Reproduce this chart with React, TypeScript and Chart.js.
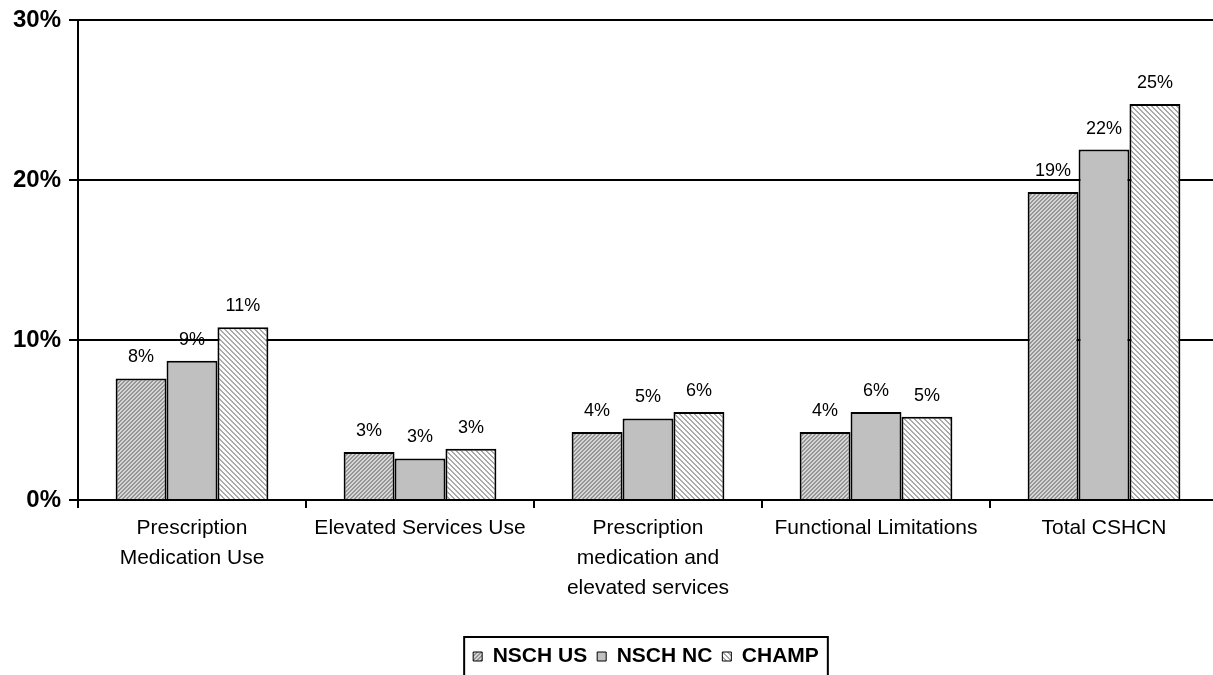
import { useEffect, useRef } from "react";
import { Chart, registerables } from "chart.js";

Chart.register(...registerables);

// Category labels (multi-line where the axis wraps them)
const categories: string[][] = [
  ["Prescription", "Medication Use"],
  ["Elevated Services Use"],
  ["Prescription", "medication and", "elevated services"],
  ["Functional Limitations"],
  ["Total CSHCN"],
];

// Percent of children, per survey
const nschUS = [7.6, 3.0, 4.25, 4.25, 19.25];
const nschNC = [8.7, 2.6, 5.1, 5.5, 21.9];
const champ = [10.8, 3.2, 5.5, 5.2, 24.75];

const seriesNames = ["NSCH US", "NSCH NC", "CHAMP"];

const yMin = 0;
const yMax = 30;
const yStep = 10;

const FONT = "'Liberation Sans', Arial, Helvetica, sans-serif";

// Build a repeating diagonal-stripe fill.
function stripePattern(
  period: number,
  stripeWidth: number,
  bg: [number, number, number],
  fg: [number, number, number],
  forward: boolean
): CanvasPattern | string {
  const c = document.createElement("canvas");
  c.width = period;
  c.height = period;
  const ctx = c.getContext("2d");
  if (!ctx) return "#bbb";
  const img = ctx.createImageData(period, period);
  for (let y = 0; y < period; y++) {
    for (let x = 0; x < period; x++) {
      const k = forward ? (x + y) % period : (((x - y) % period) + period) % period;
      const col = k < stripeWidth ? fg : bg;
      const i = (y * period + x) * 4;
      img.data[i] = col[0];
      img.data[i + 1] = col[1];
      img.data[i + 2] = col[2];
      img.data[i + 3] = 255;
    }
  }
  ctx.putImageData(img, 0, 0);
  const p = ctx.createPattern(c, "repeat");
  return p || "#bbb";
}

// Value labels above each bar
const barValueLabels = {
  id: "barValueLabels",
  afterDatasetsDraw(chart: any) {
    const ctx = chart.ctx;
    ctx.save();
    ctx.font = `18px ${FONT}`;
    ctx.fillStyle = "#000";
    ctx.textAlign = "center";
    ctx.textBaseline = "middle";
    chart.data.datasets.forEach((ds: any, di: number) => {
      const meta = chart.getDatasetMeta(di);
      meta.data.forEach((el: any, i: number) => {
        const v = ds.data[i] as number;
        ctx.fillText(`${Math.round(v)}%`, el.x, el.y - 21);
      });
    });
    ctx.restore();
  },
};

// Legend sits a little right of centre, inside a frame
const LEGEND_DX = 37;
const LEGEND_DY = 2;
const legendFrame = {
  id: "legendFrame",
  afterUpdate(chart: any) {
    const lg = chart.legend;
    if (!lg) return;
    lg.left += LEGEND_DX;
    lg.right += LEGEND_DX;
    lg.top += LEGEND_DY;
    lg.bottom += LEGEND_DY;
    for (const b of lg.legendHitBoxes || []) {
      b.left += LEGEND_DX;
      b.top += LEGEND_DY;
    }
  },
  afterDraw(chart: any) {
    const lg = chart.legend;
    if (!lg || !lg.legendHitBoxes || !lg.legendHitBoxes.length) return;
    const boxes = lg.legendHitBoxes;
    let minX = Infinity;
    let maxX = -Infinity;
    let minY = Infinity;
    for (const b of boxes) {
      minX = Math.min(minX, b.left);
      maxX = Math.max(maxX, b.left + b.width);
      minY = Math.min(minY, b.top);
    }
    const ctx = chart.ctx;
    ctx.save();
    ctx.strokeStyle = "#000";
    ctx.lineWidth = 2;
    ctx.strokeRect(minX - 9, minY - 9, maxX - minX + 18, 60);
    ctx.restore();
  },
};

export default function App() {
  const canvasRef = useRef<HTMLCanvasElement | null>(null);

  useEffect(() => {
    if (!canvasRef.current) return;
    const usFill = stripePattern(4, 2, [214, 214, 214], [150, 150, 150], true);
    const ncFill = "#c0c0c0";
    const champFill = stripePattern(5, 2, [252, 252, 252], [170, 170, 170], false);

    const chart = new Chart(canvasRef.current, {
      type: "bar",
      data: {
        labels: categories,
        datasets: [
          { label: seriesNames[0], data: nschUS, backgroundColor: usFill as any },
          { label: seriesNames[1], data: nschNC, backgroundColor: ncFill },
          { label: seriesNames[2], data: champ, backgroundColor: champFill as any },
        ].map((d) => ({
          ...d,
          borderColor: "#000",
          borderWidth: 2,
          borderSkipped: "bottom",
          categoryPercentage: 0.67,
          barPercentage: 1,
        })),
      },
      options: {
        animation: false,
        responsive: true,
        maintainAspectRatio: false,
        layout: { padding: { top: 20, left: 0, right: 0, bottom: 0 } },
        plugins: {
          tooltip: { enabled: false },
          title: { display: false },
          legend: {
            display: true,
            position: "bottom",
            labels: {
              color: "#000",
              font: { family: FONT, size: 21, weight: "bold" },
              boxWidth: 9,
              boxHeight: 9,
              padding: 10,
              generateLabels(chart: any) {
                const items = Chart.defaults.plugins.legend.labels.generateLabels(chart);
                return items.map((it: any) => ({ ...it, lineWidth: 1, strokeStyle: "#000" }));
              },
            },
          },
        },
        scales: {
          x: {
            type: "category",
            offset: true,
            grid: {
              display: true,
              drawOnChartArea: false,
              drawTicks: true,
              tickLength: 8,
              color: "#000",
              lineWidth: 2,
              offset: true,
            },
            border: { display: true, color: "#000", width: 2 },
            ticks: {
              color: "#000",
              font: { family: FONT, size: 21, lineHeight: 1.43 },
              maxRotation: 0,
              autoSkip: false,
              padding: 5,
            },
            afterFit(scale: any) {
              scale.height = 134;
            },
          },
          y: {
            min: yMin,
            max: yMax,
            grid: {
              color: "#000",
              lineWidth: 2,
              drawTicks: true,
              tickLength: 9,
            },
            border: { display: true, color: "#000", width: 2 },
            ticks: {
              stepSize: yStep,
              color: "#000",
              font: { family: FONT, size: 24, weight: "bold", lineHeight: 0.9 },
              padding: 8,
              callback: (v: any) => `${v}%`,
            },
            afterFit(scale: any) {
              scale.width = 78;
            },
          },
        },
      },
      plugins: [barValueLabels, legendFrame],
    });

    return () => chart.destroy();
  }, []);

  return (
    <div
      style={{
        position: "fixed",
        left: 0,
        top: 0,
        width: 1213,
        height: 675,
        overflow: "hidden",
        background: "#fff",
      }}
    >
      <div style={{ position: "absolute", left: 0, top: 0, width: 1218, height: 675 }}>
        <canvas ref={canvasRef} />
      </div>
    </div>
  );
}
